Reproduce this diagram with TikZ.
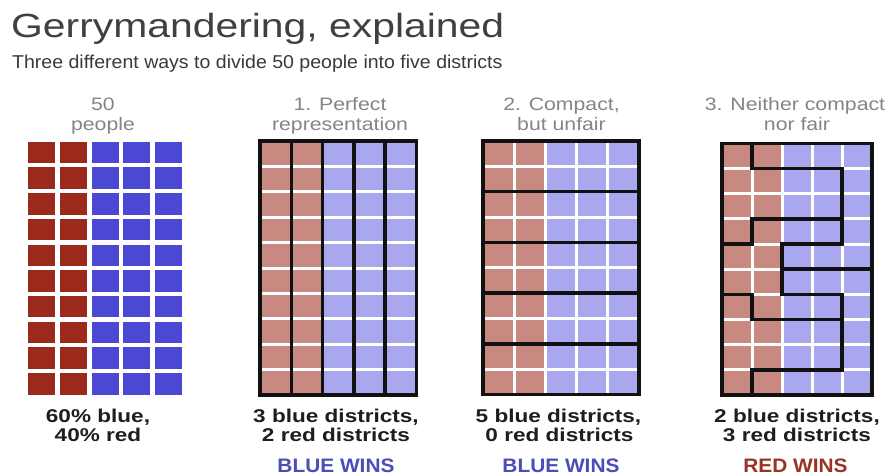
\documentclass[tikz,border=0pt]{standalone}
\usepackage{fontspec}
\setmainfont{Liberation Sans}
\newfontfamily\titlefont[FakeStretch=1.22]{Liberation Sans}
\newfontfamily\subfont[FakeStretch=1.05]{Liberation Sans}
\newfontfamily\labelfont[FakeStretch=1.18]{Liberation Sans}
\newfontfamily\statfont[FakeStretch=1.22]{Liberation Sans Bold}
\newfontfamily\winfont[FakeStretch=1.07]{Liberation Sans Bold}
\definecolor{pRed}{HTML}{9B2A1D}
\definecolor{pBlue}{HTML}{4B49D3}
\definecolor{lRed}{HTML}{C88A80}
\definecolor{lBlue}{HTML}{A9A7EE}
\definecolor{titleGray}{HTML}{404040}
\definecolor{subGray}{HTML}{3A3A3A}
\definecolor{labelGray}{HTML}{858585}
\definecolor{statBlack}{HTML}{1E1E1E}
\definecolor{winBlue}{HTML}{4C4DB8}
\definecolor{winRed}{HTML}{9A3324}
\definecolor{lineBlack}{HTML}{111111}
\tikzset{
  gapline/.style={draw=white, line width=3pt},
  district/.style={draw=lineBlack, line width=3.6pt, line cap=rect, line join=miter},
  toplabel/.style={anchor=base, inner sep=0, text=labelGray, font=\labelfont\fontsize{18}{20}\selectfont},
  stat/.style={anchor=base, inner sep=0, text=statBlack, font=\statfont\fontsize{18.5}{20}\selectfont},
  win/.style={anchor=base, inner sep=0, text depth=0pt, font=\winfont\fontsize{19.5}{21}\selectfont},
}
\begin{document}
\begin{tikzpicture}[x=1pt,y=-1pt]
\useasboundingbox (0,0) rectangle (895,476);
\fill[white] (0,0) rectangle (895,476);

% title and subtitle
\node[anchor=base west, inner sep=0, text=titleGray, font=\titlefont\fontsize{33.5}{40}\selectfont] (title) at (11,37.7) {Gerrymandering, explained};
\node[anchor=base west, inner sep=0, text=subGray, font=\subfont\fontsize{18.6}{22}\selectfont] (subtitle) at (12,69) {Three different ways to divide 50 people into five districts};

% column labels
\node[toplabel] (l0a) at (103,111) {50};
\node[toplabel] (l0b) at (103,130.7) {people};
\node[toplabel] (l1a) at (340,111) {1. Perfect};
\node[toplabel] (l1b) at (340,130.7) {representation};
\node[toplabel] (l2a) at (561.5,111) {2. Compact,};
\node[toplabel] (l2b) at (561.5,130.7) {but unfair};
\node[toplabel] (l3a) at (795,111) {3. Neither compact};
\node[toplabel] (l3b) at (797,130.7) {nor fair};

% panel 0: 50 people
\foreach \c in {0,1} \foreach \r in {0,...,9}
  \fill[pRed] ({28+31.8*\c},{141.7+25.7*\r}) rectangle ++(27,21.5);
\foreach \c in {2,3,4} \foreach \r in {0,...,9}
  \fill[pBlue] ({28+31.8*\c},{141.7+25.7*\r}) rectangle ++(27,21.5);

% panel 1: perfect representation
\begin{scope}[shift={(260pt,-141pt)}, x=31.3pt, y=-25.4pt]
  \fill[lRed] (0,0) rectangle (2,10);
  \fill[lBlue] (2,0) rectangle (5,10);
  \foreach \r in {1,...,9} \draw[gapline] (0,\r) -- (5,\r);
  \foreach \c in {1,...,4} \draw[district] (\c,0) -- (\c,10);
  \draw[district] (0,0) rectangle (5,10);
\end{scope}

% panel 2: compact, but unfair
\begin{scope}[shift={(483pt,-141pt)}, x=31.2pt, y=-25.35pt]
  \fill[lRed] (0,0) rectangle (2,10);
  \fill[lBlue] (2,0) rectangle (5,10);
  \foreach \r in {1,...,9} \draw[gapline] (0,\r) -- (5,\r);
  \foreach \c in {1,...,4} \draw[gapline] (\c,0) -- (\c,10);
  \foreach \r in {2,4,6,8} \draw[district] (0,\r) -- (5,\r);
  \draw[district] (0,0) rectangle (5,10);
\end{scope}

% panel 3: neither compact nor fair
\begin{scope}[shift={(722pt,-143.5pt)}, x=30pt, y=-25.15pt]
  \fill[lRed] (0,0) rectangle (2,10);
  \fill[lBlue] (2,0) rectangle (5,10);
  \foreach \r in {1,...,9} \draw[gapline] (0,\r) -- (5,\r);
  \foreach \c in {1,...,4} \draw[gapline] (\c,0) -- (\c,10);
  \draw[district] (1,0) -- (1,1) -- (4,1) -- (4,4) -- (2,4) -- (2,6) -- (4,6) -- (4,9) -- (1,9) -- (1,10);
  \draw[district] (4,3) -- (1,3) -- (1,4) -- (0,4);
  \draw[district] (2,5) -- (5,5);
  \draw[district] (0,6) -- (1,6) -- (1,7) -- (4,7);
  \draw[district] (0,0) rectangle (5,10);
\end{scope}

% results
\node[stat] (s0a) at (98,422.7) {60\% blue,};
\node[stat] (s0b) at (98,441) {40\% red};
\node[stat] (s1a) at (336,422.7) {3 blue districts,};
\node[stat] (s1b) at (336,441) {2 red districts};
\node[stat] (s2a) at (558.5,422.7) {5 blue districts,};
\node[stat] (s2b) at (559.5,441) {0 red districts};
\node[stat] (s3a) at (797,422.7) {2 blue districts,};
\node[stat] (s3b) at (797,441) {3 red districts};

\node[win, text=winBlue] (w1) at (336,472.5) {BLUE WINS};
\node[win, text=winBlue] (w2) at (561,472.5) {BLUE WINS};
\node[win, text=winRed] (w3) at (795.5,472.5) {RED WINS};
\end{tikzpicture}
\end{document}
